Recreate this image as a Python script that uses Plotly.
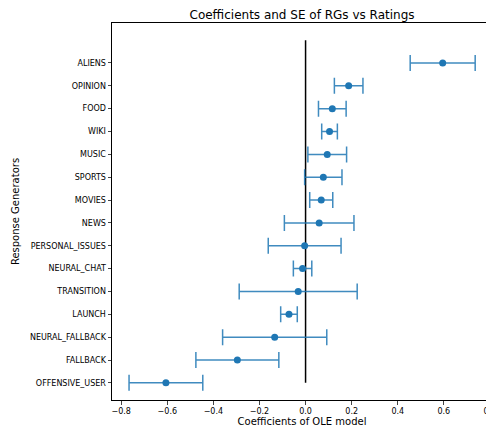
import plotly.graph_objects as go

categories = ["OFFENSIVE_USER", "FALLBACK", "NEURAL_FALLBACK", "LAUNCH", "TRANSITION",
              "NEURAL_CHAT", "PERSONAL_ISSUES", "NEWS", "MOVIES", "SPORTS", "MUSIC",
              "WIKI", "FOOD", "OPINION", "ALIENS"]
coefficients = [-0.606, -0.296, -0.134, -0.072, -0.032, -0.013, -0.004, 0.059, 0.068,
                0.077, 0.094, 0.104, 0.116, 0.187, 0.595]
std_errors = [0.160, 0.180, 0.226, 0.036, 0.256, 0.040, 0.158, 0.151, 0.050,
              0.081, 0.084, 0.034, 0.060, 0.062, 0.141]
x_ticks = [-0.8, -0.6, -0.4, -0.2, 0.0, 0.2, 0.4, 0.6, 0.8]

positions = list(range(len(categories)))
blue = "#1f77b4"
font = "DejaVu Sans"

fig = go.Figure()
fig.add_trace(go.Scatter(
    x=[0, 0], y=[0, len(categories)], mode="lines",
    line=dict(color="black", width=1.5), showlegend=False, hoverinfo="skip"))
fig.add_trace(go.Scatter(
    x=coefficients, y=positions, mode="markers",
    marker=dict(color=blue, size=7),
    error_x=dict(type="data", array=std_errors, visible=True,
                 color="rgba(31,119,180,0.85)", thickness=1.5, width=8),
    showlegend=False))

# page has an 8px body margin, so the figure is sized/offset to compensate
fig.update_layout(
    width=486, height=422,
    margin=dict(l=104, r=2, t=15, b=30, autoexpand=False),
    paper_bgcolor="white", plot_bgcolor="white",
    font=dict(family=font, color="black", size=8),
    title=dict(text="Coefficients and SE of RGs vs Ratings", xref="paper", x=0.5,
               xanchor="center", yref="container", y=1 - 7 / 422, yanchor="middle",
               font=dict(size=12, family=font, color="black")),
    xaxis=dict(range=[-0.840, 0.809], tickvals=x_ticks,
               ticktext=[("\u2212" if v < 0 else "") + f"{abs(v):.1f}" for v in x_ticks],
               showgrid=False, zeroline=False, showline=True, linecolor="black",
               linewidth=1, mirror=True, ticks="outside", ticklen=3.5, tickwidth=0.8,
               tickfont=dict(size=8), automargin=False, ticklabeloverflow="allow",
               title=dict(text="Coefficients of OLE model", font=dict(size=10), standoff=2)),
    yaxis=dict(range=[-0.75, len(categories) - 1 + 1.75], tickvals=positions, ticktext=categories,
               showgrid=False, zeroline=False, showline=True, linecolor="black",
               linewidth=1, mirror=True, ticks="outside", ticklen=3.5, tickwidth=0.8,
               tickfont=dict(size=8), automargin=False,
               title=dict(text="Response Generators", font=dict(size=10), standoff=8)),
)

fig.write_html("out.html")
